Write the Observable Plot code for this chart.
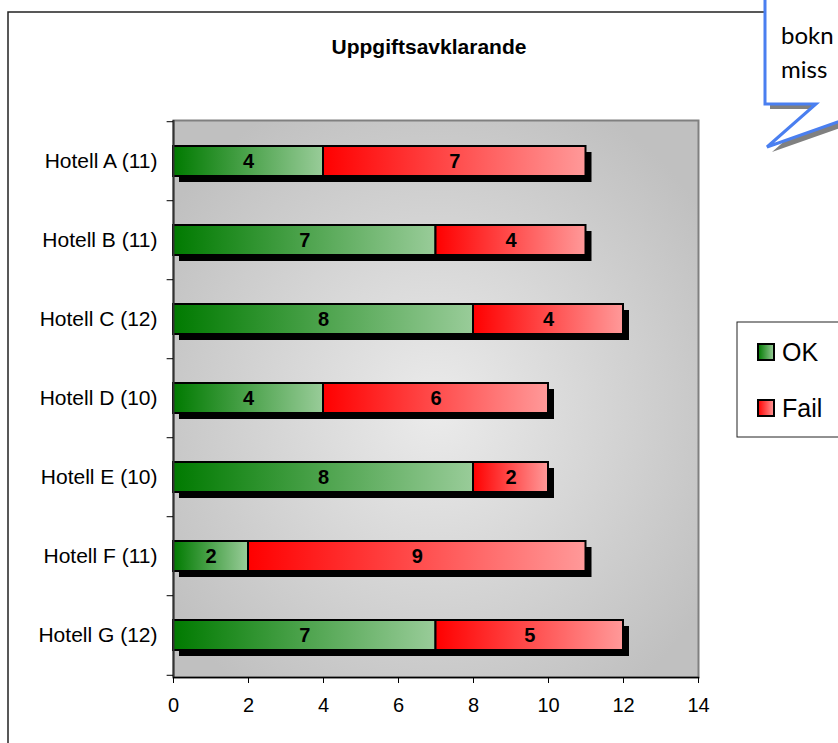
<!DOCTYPE html>
<html><head><meta charset="utf-8">
<script src="https://cdn.jsdelivr.net/npm/d3@7"></script>
<script src="https://cdn.jsdelivr.net/npm/@observablehq/plot@0.6"></script>
<style>
html,body{margin:0;padding:0;background:#fff;overflow:hidden}
#chart{position:relative;width:838px;height:743px}
</style></head><body><div id="chart"></div>
<script>
const hotels = ["Hotell A (11)","Hotell B (11)","Hotell C (12)","Hotell D (10)","Hotell E (10)","Hotell F (11)","Hotell G (12)"];
const okValues = [4,7,8,4,8,2,7];
const failValues = [7,4,4,6,2,9,5];
const xTicks = [0,2,4,6,8,10,12,14];
const seriesNames = ["OK","Fail"];
const chartTitle = "Uppgiftsavklarande";
const calloutLines = ["bokn","miss"];

const okRows = hotels.map((h,i)=>({hotel:h, x1:0, x2:okValues[i], value:okValues[i]}));
const failRows = hotels.map((h,i)=>({hotel:h, x1:okValues[i], x2:okValues[i]+failValues[i], value:failValues[i]}));
const totals = hotels.map((h,i)=>({hotel:h, total: okValues[i]+failValues[i]}));

const W = 838, H = 743, mT = 120, mB = 66, mL = 173, mR = 140;
const step = (H - mT - mB) / hotels.length;
const font = "'Liberation Sans', Arial, sans-serif";

const svg = Plot.plot({
  width: W, height: H,
  marginLeft: mL, marginRight: mR, marginTop: mT, marginBottom: mB,
  style: {fontFamily: font, fontSize: "20px", color: "#000", background: "transparent", overflow: "visible"},
  x: {domain: [0, 14], label: null},
  y: {domain: hotels, paddingInner: 0.62, paddingOuter: 0.31, label: null},
  marks: [
    Plot.frame({fill: "url(#plotBg)", stroke: "#808080", strokeWidth: 2}),
    Plot.barX(totals, {x1: 0, x2: "total", y: "hotel", fill: "#000", dx: 6, dy: 6}),
    Plot.barX(okRows, {x1: "x1", x2: "x2", y: "hotel", fill: "url(#gradOK)", stroke: "#000", strokeWidth: 2}),
    Plot.barX(failRows, {x1: "x1", x2: "x2", y: "hotel", fill: "url(#gradFail)", stroke: "#000", strokeWidth: 2}),
    Plot.text(okRows, {x: d => (d.x1 + d.x2) / 2, y: "hotel", text: d => String(d.value), fontWeight: "bold", fontSize: 20}),
    Plot.text(failRows, {x: d => (d.x1 + d.x2) / 2, y: "hotel", text: d => String(d.value), fontWeight: "bold", fontSize: 20}),
    Plot.ruleX([0], {stroke: "#333", strokeWidth: 2}),
    Plot.frame({anchor: "bottom", stroke: "#000", strokeWidth: 1.5}),
    Plot.ruleY(hotels, {y: d => d, x1: -0.17, x2: 0, dy: -step / 2, stroke: "#000"}),
    Plot.ruleY(hotels.slice(-1), {y: d => d, x1: -0.17, x2: 0, dy: step / 2, stroke: "#000"}),
    Plot.axisX({ticks: xTicks, tickSize: 6, tickPadding: 14, fontSize: 20, stroke: "#000"}),
    Plot.axisY({tickSize: 0, tickPadding: 16, fontSize: 21})
  ]
});
document.getElementById("chart").appendChild(svg);

const s = d3.select(svg);
const defs = s.insert("defs", ":first-child");
const bg = defs.append("radialGradient").attr("id", "plotBg").attr("cx", "50%").attr("cy", "52%").attr("r", "62%");
bg.append("stop").attr("offset", "0%").attr("stop-color", "#ebebeb");
bg.append("stop").attr("offset", "100%").attr("stop-color", "#c0c0c0");
const gOK = defs.append("linearGradient").attr("id", "gradOK");
gOK.append("stop").attr("offset", "0%").attr("stop-color", "#007a00");
gOK.append("stop").attr("offset", "100%").attr("stop-color", "#99cc99");
const gF = defs.append("linearGradient").attr("id", "gradFail");
gF.append("stop").attr("offset", "0%").attr("stop-color", "#ff0000");
gF.append("stop").attr("offset", "100%").attr("stop-color", "#ff9999");

// outer chart border
s.append("path").attr("d", "M8,743 V12 H770").attr("fill", "none").attr("stroke", "#222").attr("stroke-width", 1.5);

// title
s.append("text").attr("x", 429).attr("y", 46).attr("text-anchor", "middle").attr("dominant-baseline", "central")
  .attr("font-family", font).attr("font-weight", "bold").attr("font-size", 21).text(chartTitle);

// legend
const lg = s.append("g");
lg.append("rect").attr("x", 737).attr("y", 322).attr("width", 120).attr("height", 115).attr("fill", "#fff").attr("stroke", "#222").attr("stroke-width", 1);
const legendY = [352, 408];
seriesNames.forEach((name, i) => {
  lg.append("rect").attr("x", 758).attr("y", legendY[i] - 8).attr("width", 16).attr("height", 16)
    .attr("fill", i === 0 ? "url(#gradOK)" : "url(#gradFail)").attr("stroke", "#000").attr("stroke-width", 2);
  lg.append("text").attr("x", 782).attr("y", legendY[i]).attr("dominant-baseline", "central").attr("text-anchor", "start")
    .attr("font-family", font).attr("font-size", 25).text(name);
});

// callout
const cpts = "765,-10 765,104 816,104 767,147 900,100 900,-10";
s.append("polygon").attr("points", cpts).attr("fill", "#808080").attr("transform", "translate(5,5)");
s.append("polygon").attr("points", cpts).attr("fill", "#fff").attr("stroke", "#4a7ff0").attr("stroke-width", 3);
calloutLines.forEach((t, i) => {
  s.append("text").attr("x", 781).attr("y", 44 + i * 34).attr("text-anchor", "start").attr("font-family", "Lato, 'Open Sans', sans-serif")
    .attr("font-size", 24).attr("fill", "#000").text(t);
});
</script></body></html>
